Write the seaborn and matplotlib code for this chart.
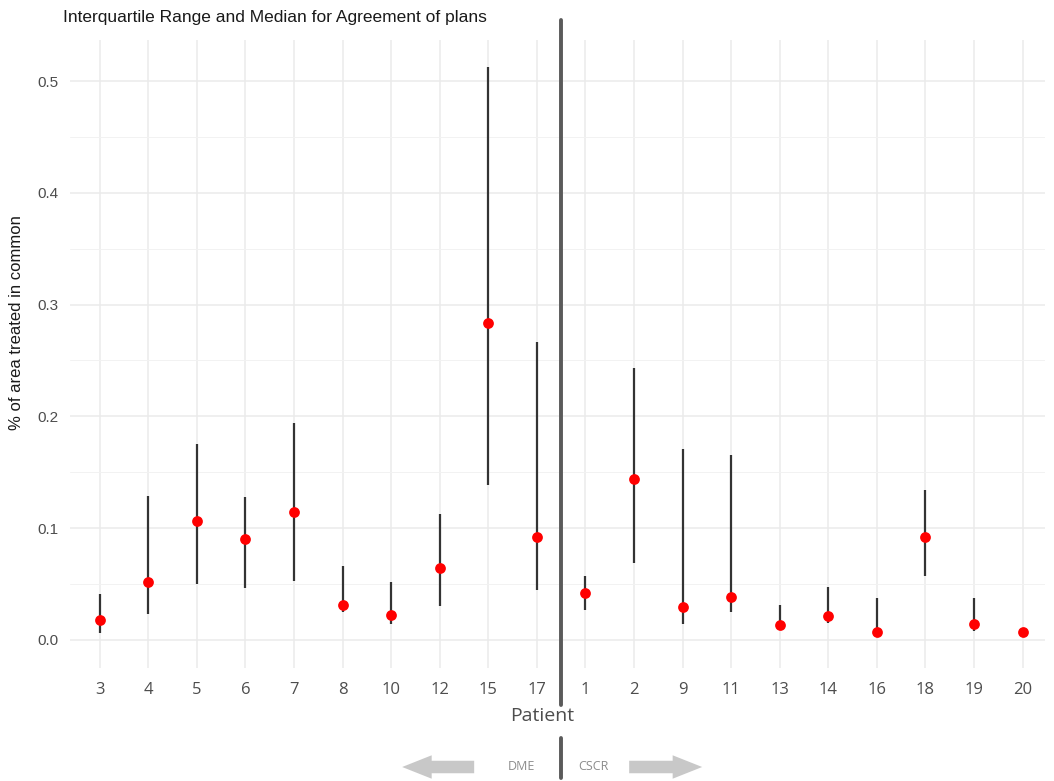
import numpy as np
import pandas as pd
import matplotlib
matplotlib.use("Agg")
import matplotlib.pyplot as plt
from matplotlib.patches import FancyArrow
from matplotlib.lines import Line2D
import seaborn as sns

patients = ["3", "4", "5", "6", "7", "8", "10", "12", "15", "17",
            "1", "2", "9", "11", "13", "14", "16", "18", "19", "20"]
median = [0.018, 0.052, 0.106, 0.090, 0.114, 0.031, 0.022, 0.064, 0.284, 0.092,
          0.042, 0.144, 0.029, 0.038, 0.013, 0.021, 0.007, 0.092, 0.014, 0.007]
q1 = [0.006, 0.023, 0.050, 0.046, 0.053, 0.025, 0.014, 0.030, 0.139, 0.045,
      0.027, 0.069, 0.014, 0.025, 0.009, 0.015, 0.006, 0.057, 0.008, 0.006]
q3 = [0.041, 0.129, 0.175, 0.128, 0.194, 0.066, 0.052, 0.113, 0.513, 0.267,
      0.057, 0.243, 0.171, 0.165, 0.031, 0.047, 0.037, 0.134, 0.037, 0.008]
groups = ["DME", "CSCR"]
n_first_group = 10

df = pd.DataFrame({"Patient": patients, "median": median, "q1": q1, "q3": q3})

sns.set_theme(style="whitegrid")
plt.rcParams['font.family'] = ['Liberation Sans', 'DejaVu Sans']

fig = plt.figure(figsize=(10.54, 7.81), dpi=100)
ax = fig.add_axes([0.066, 0.145, 0.925, 0.804])

pos = np.arange(len(patients))
ax.vlines(pos, df["q1"], df["q3"], color="#333333", linewidth=1.6, zorder=3)
sns.scatterplot(data=df, x="Patient", y="median", color="red", s=60,
                edgecolor="red", linewidth=0, zorder=4, ax=ax)

ax.set_xlim(-0.62, 19.45)
ax.set_ylim(-0.025, 0.537)
ax.set_yticks([0.0, 0.1, 0.2, 0.3, 0.4, 0.5])
ax.set_yticklabels(["0.0", "0.1", "0.2", "0.3", "0.4", "0.5"])
ax.set_yticks([0.05, 0.15, 0.25, 0.35, 0.45], minor=True)
ax.grid(True, which="major", color="#ebebeb", linewidth=1.1)
ax.grid(True, which="minor", axis="y", color="#f2f2f2", linewidth=0.7)
ax.set_facecolor("white")
for s in ax.spines.values():
    s.set_visible(False)
ax.tick_params(axis="both", which="both", length=0)
ax.tick_params(axis="x", labelsize=12, labelcolor="#4d4d4d", pad=10)
ax.tick_params(axis="y", labelsize=11, labelcolor="#4d4d4d", pad=8)
for lab in ax.get_xticklabels():
    lab.set_family(["Open Sans", "DejaVu Sans"])

ax.set_xlabel("Patient", fontsize=14, color="#4d4d4d", family=["Open Sans", "DejaVu Sans"])
ax.xaxis.set_label_coords(0.485, -0.062)
ax.set_ylabel("% of area treated in common", fontsize=12, color="#1a1a1a")
ax.yaxis.set_label_coords(-0.047, 0.55)
fig.text(0.060, 0.978, "Interquartile Range and Median for Agreement of plans",
         fontsize=12.5, ha="left", va="center", color="#1a1a1a")

# divider line between groups (between last DME and first CSCR patient)
trans = ax.get_xaxis_transform()
xdiv = n_first_group - 0.5
ax.add_line(Line2D([xdiv, xdiv], [1 + 20 / 628, 1 - 665 / 628], transform=trans,
                   color="#5a5a5a", linewidth=2.8, clip_on=False))
ax.add_line(Line2D([xdiv, xdiv], [1 - 698 / 628, 1 - 738 / 628], transform=trans,
                   color="#5a5a5a", linewidth=2.8, clip_on=False))

# group arrows
xd = ax.transData.transform((xdiv, 0))[0] / fig.bbox.width
fig.add_artist(FancyArrow(xd - 87 / 1054, 1 - 767 / 781, -72 / 1054, 0,
                          width=0.016, head_width=0.030, head_length=0.028,
                          length_includes_head=True, color="#c8c8c8", linewidth=0))
fig.add_artist(FancyArrow(xd + 68 / 1054, 1 - 767 / 781, 73 / 1054, 0,
                          width=0.016, head_width=0.030, head_length=0.028,
                          length_includes_head=True, color="#c8c8c8", linewidth=0))
fig.text(xd - 40 / 1054, 1 - 767 / 781, groups[0], fontsize=9, color="#8c8c8c",
         ha="center", va="center", family=["Open Sans", "DejaVu Sans"])
fig.text(xd + 32 / 1054, 1 - 767 / 781, groups[1], fontsize=9, color="#8c8c8c",
         ha="center", va="center", family=["Open Sans", "DejaVu Sans"])

fig.savefig("out.png", dpi=100, facecolor="white")
